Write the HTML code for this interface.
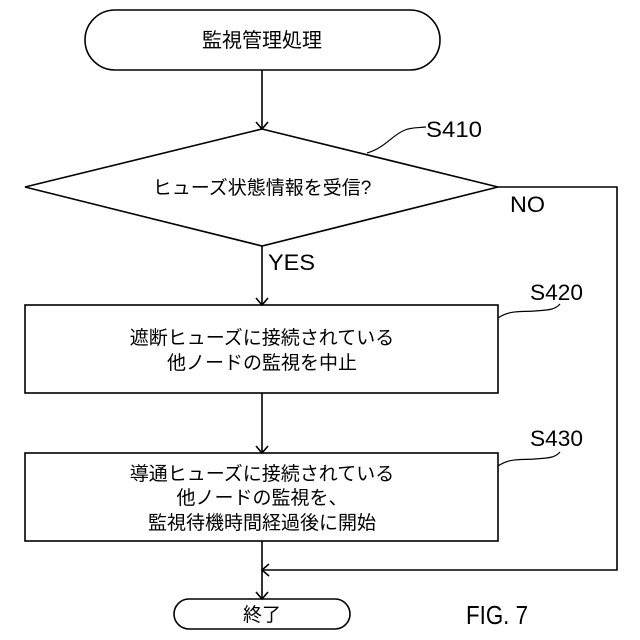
<!DOCTYPE html>
<html><head><meta charset="utf-8"><style>
html,body{margin:0;padding:0;background:#fff;}
svg{display:block;}
.j{font-family:"Liberation Sans","Noto Sans CJK JP",sans-serif;font-size:19px;fill:#000;}
.l{font-family:"Liberation Sans Narrow","Liberation Sans",sans-serif;font-size:22px;fill:#000;}
</style></head><body>
<svg width="640" height="640" viewBox="0 0 640 640" xmlns="http://www.w3.org/2000/svg">
<g fill="none" stroke="#000" stroke-width="1.6">
<rect x="85" y="10" width="355" height="60" rx="30"/>
<line x1="262" y1="70" x2="262" y2="129"/>
<polyline points="256,122 262,129 268,122"/>
<polygon points="262,129 498,187 262,246 25,187"/>
<line x1="262" y1="246" x2="262" y2="305"/>
<polyline points="256,298 262,305 268,298"/>
<rect x="25" y="305" width="473" height="88"/>
<line x1="262" y1="393" x2="262" y2="453"/>
<polyline points="256,446 262,453 268,446"/>
<rect x="25" y="453" width="473" height="88"/>
<line x1="262" y1="541" x2="262" y2="599"/>
<polyline points="256,592 262,599 268,592"/>
<polyline points="498,187 617,187 617,570 262,570"/>
<polyline points="269,564 262,570 269,576"/>
<rect x="174" y="599" width="176" height="30" rx="15"/>
<path d="M367,153 C385,148 392,135 405,130 C413,127 418,128 426,127" stroke-width="1.2"/>
<path d="M498,318 C510,310 520,312 535,311 C548,310 555,310 560,304" stroke-width="1.2"/>
<path d="M498,466 C510,458 520,460 535,459 C548,458 555,458 560,452" stroke-width="1.2"/>
</g>
<text class="j" x="262" y="47" text-anchor="middle" style="font-size:20px">監視管理処理</text>
<text class="j" x="262" y="194" text-anchor="middle">ヒューズ状態情報を受信?</text>
<text class="j" x="262" y="344" text-anchor="middle">遮断ヒューズに接続されている</text>
<text class="j" x="262" y="369" text-anchor="middle">他ノードの監視を中止</text>
<text class="j" x="262" y="480" text-anchor="middle">導通ヒューズに接続されている</text>
<text class="j" x="262" y="504" text-anchor="middle">他ノードの監視を、</text>
<text class="j" x="262" y="529" text-anchor="middle">監視待機時間経過後に開始</text>
<text class="j" x="262" y="621" text-anchor="middle">終了</text>
<text class="l" x="426" y="137" textLength="56" lengthAdjust="spacingAndGlyphs">S410</text>
<text class="l" x="510" y="212" textLength="35" lengthAdjust="spacingAndGlyphs">NO</text>
<text class="l" x="268" y="270" textLength="47" lengthAdjust="spacingAndGlyphs">YES</text>
<text class="l" x="530" y="300" textLength="53" lengthAdjust="spacingAndGlyphs">S420</text>
<text class="l" x="530" y="446" textLength="53" lengthAdjust="spacingAndGlyphs">S430</text>
<text class="l" x="466" y="624" style="font-size:26px" textLength="62" lengthAdjust="spacingAndGlyphs">FIG. 7</text>
</svg>
</body></html>
